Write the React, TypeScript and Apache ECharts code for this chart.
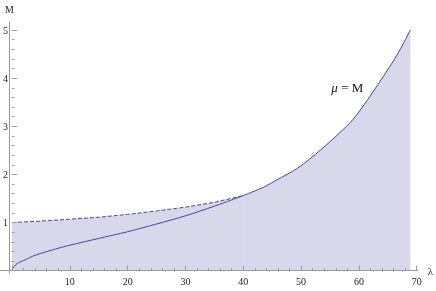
import React, { useEffect, useRef } from "react";
import * as echarts from "echarts";

const solidLam = [0, 0.2, 0.6, 1.2, 2, 3, 4, 5, 7.5, 10, 15, 20, 25, 30, 35, 38, 40, 43.7, 45.7, 49.4, 53.4, 56.9, 58.9, 61.5, 63.8, 66.6, 68.9];
const solidM = [0, 0.06, 0.12, 0.17, 0.21, 0.27, 0.32, 0.36, 0.45, 0.53, 0.67, 0.81, 0.97, 1.14, 1.34, 1.47, 1.56, 1.745, 1.88, 2.13, 2.51, 2.89, 3.13, 3.55, 3.96, 4.48, 5.0];

const dashLam = [0, 5, 10, 15, 20, 25, 30, 35, 40];
const dashM = [1.0, 1.03, 1.07, 1.11, 1.17, 1.24, 1.32, 1.42, 1.56];

const LINE = "#4646a2";
const FILL = "#d8d8eb";
const AXIS = "#9a9a9a";
const FONT = "Liberation Serif";

export default function App() {
  const ref = useRef<HTMLDivElement>(null);
  useEffect(() => {
    if (!ref.current) return;
    const chart = echarts.init(ref.current, undefined, { renderer: "svg" });
    const solid = solidLam.map((l, i) => [l, solidM[i]]);
    const low = solid.filter((p) => p[0] <= 40);
    const high = solid.filter((p) => p[0] >= 40);
    const dashed = dashLam.map((l, i) => [l, dashM[i]]);
    const labelStyle = { color: "#222", fontFamily: FONT, fontSize: 10 };
    chart.setOption({
      animation: false,
      grid: [
        { left: 9.5, right: 19.3, top: 30, bottom: 20.3, containLabel: false },
        { left: 0, right: 18, top: 22, bottom: 18, containLabel: false },
      ],
      xAxis: [
        {
          type: "value", gridIndex: 0, min: 0, max: 70, interval: 10, z: 10,
          axisLine: { show: false },
          axisTick: { show: true, inside: true, length: 5, lineStyle: { color: AXIS } },
          minorTick: { show: true, splitNumber: 5, length: 2.5, lineStyle: { color: AXIS } },
          axisLabel: { margin: 6, ...labelStyle, formatter: (v: number) => (v === 0 ? "" : String(v)) },
          splitLine: { show: false },
          minorSplitLine: { show: false },
        },
        {
          type: "value", gridIndex: 1, min: -1.633, max: 70.22, z: 9,
          axisLine: { onZero: true, lineStyle: { color: AXIS, width: 1 } },
          axisTick: { show: false },
          axisLabel: { show: false },
          splitLine: { show: false },
          name: "λ", nameLocation: "end", nameGap: 10,
          nameTextStyle: { color: "#222", fontFamily: FONT, fontSize: 11 },
        },
      ],
      yAxis: [
        {
          type: "value", gridIndex: 0, min: 0, max: 5, interval: 1, z: 10,
          axisLine: { show: false },
          axisTick: { show: true, inside: true, length: 5, lineStyle: { color: AXIS } },
          minorTick: { show: true, splitNumber: 5, length: 2.5, lineStyle: { color: AXIS } },
          axisLabel: { margin: 4, ...labelStyle, formatter: (v: number) => (v === 0 ? "" : String(v)) },
          splitLine: { show: false },
          minorSplitLine: { show: false },
        },
        {
          type: "value", gridIndex: 1, min: -0.048, max: 5.166, z: 9,
          axisLine: { show: true, onZero: true, lineStyle: { color: AXIS, width: 1 } },
          axisTick: { show: false },
          axisLabel: { show: false },
          splitLine: { show: false },
          name: "M", nameLocation: "end", nameGap: 8,
          nameTextStyle: { color: "#222", fontFamily: FONT, fontSize: 10 },
        },
      ],
      series: [
        {
          type: "line", data: dashed, symbol: "none", xAxisIndex: 0, yAxisIndex: 0,
          lineStyle: { color: LINE, width: 1, type: [4, 2] },
          areaStyle: { color: FILL, opacity: 1 },
        },
        {
          type: "line", data: high, symbol: "none", smooth: 0.3, xAxisIndex: 0, yAxisIndex: 0,
          lineStyle: { color: LINE, width: 1 },
          areaStyle: { color: FILL, opacity: 1 },
          markPoint: {
            symbol: "circle", symbolSize: 0,
            data: [{ coord: [58, 3.8] }],
            label: {
              show: true, position: "inside", formatter: "{i|μ} = M",
              color: "#111", fontFamily: FONT, fontSize: 13,
              rich: { i: { fontStyle: "italic", fontFamily: FONT, fontSize: 13, color: "#111" } },
            },
          },
        },
        {
          type: "line", data: low, symbol: "none", smooth: 0.3, xAxisIndex: 0, yAxisIndex: 0,
          lineStyle: { color: LINE, width: 1 },
        },
      ],
    });
    return () => chart.dispose();
  }, []);
  return <div ref={ref} style={{ position: "fixed", left: 0, top: 0, width: 436, height: 291 }} />;
}
